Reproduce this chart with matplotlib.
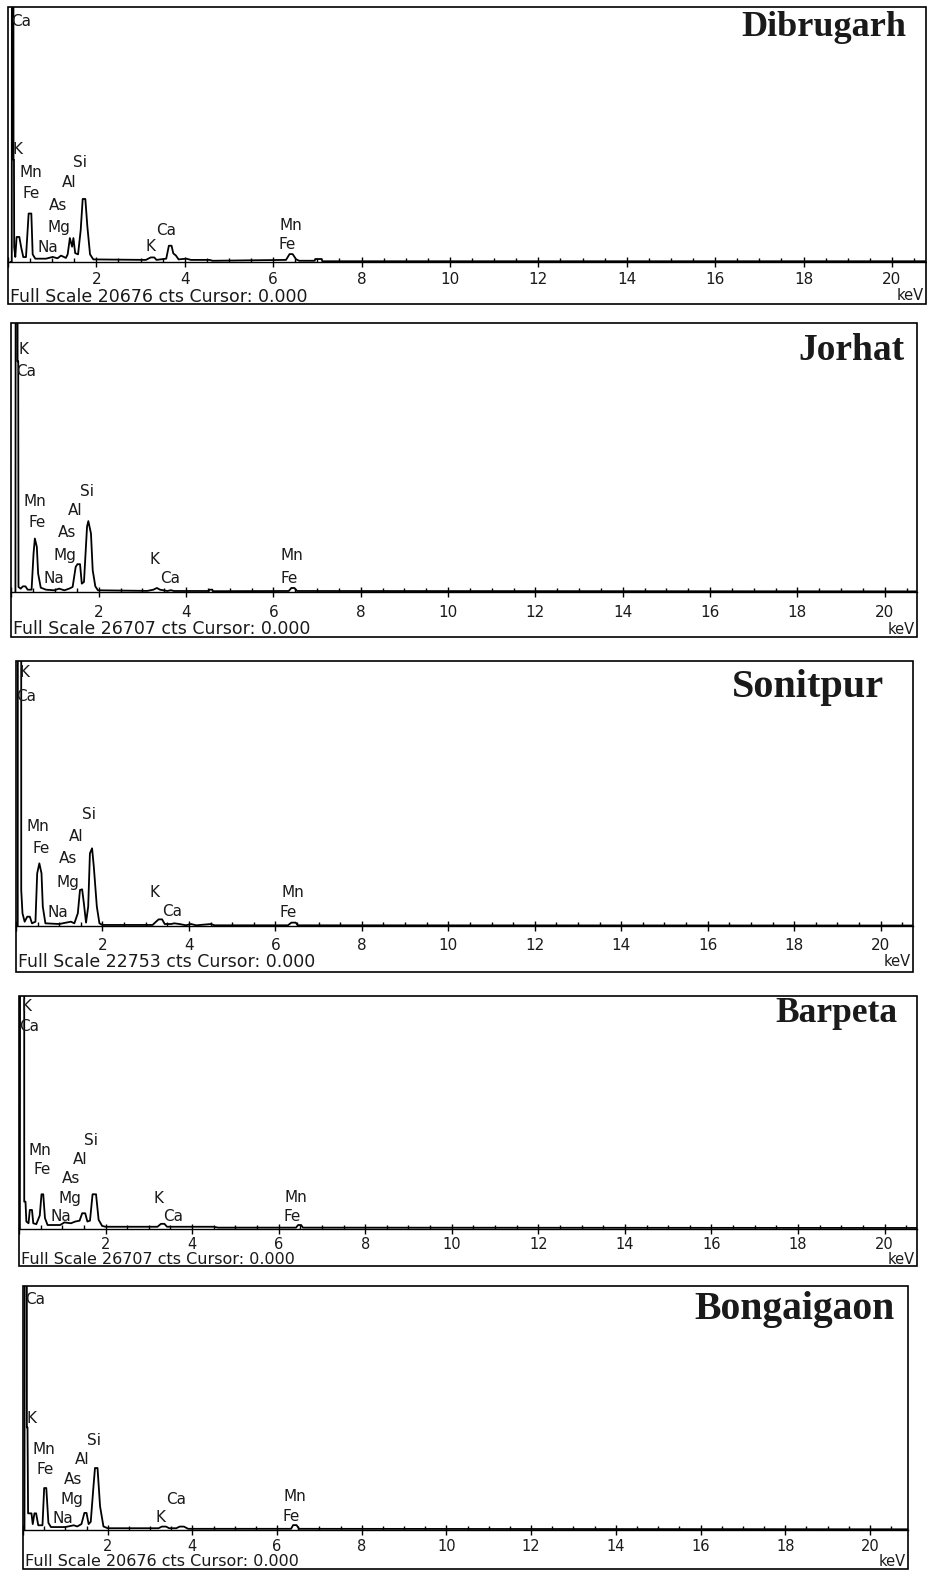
import matplotlib
matplotlib.use("Agg")
import matplotlib.pyplot as plt
from matplotlib.patches import Rectangle
from matplotlib.ticker import MultipleLocator, FuncFormatter

# EDX spectra of five districts, counts vs energy (keV)

sites = ["Dibrugarh", "Jorhat", "Sonitpur", "Barpeta", "Bongaigaon"]
full_scale = [20676, 26707, 22753, 26707, 20676]

dib_kev = [0.06, 0.085, 0.09, 0.12, 0.125, 0.135, 0.14, 0.165, 0.195, 0.256, 0.301, 0.346,
           0.407, 0.467, 0.528, 0.558, 0.618, 0.86, 1.01, 1.12, 1.20, 1.31, 1.35, 1.40,
           1.45, 1.48, 1.52, 1.585, 1.645, 1.69, 1.75, 1.795, 1.856, 1.93, 3.12, 3.23,
           3.31, 3.36, 3.58, 3.64, 3.70, 3.74, 3.80, 3.86, 4.03, 4.14, 4.56, 4.63, 6.29,
           6.37, 6.44, 6.52, 6.59, 6.94, 6.95, 7.10, 7.11, 20.9]
dib_cts = [0, 0, 40000, 40000, 8270, 8270, 1220, 410, 2030, 2030, 1140, 400,
           400, 3930, 3930, 620, 270, 270, 410, 300, 520, 330, 620, 1940,
           1240, 1940, 720, 620, 2600, 5110, 5110, 2900, 620, 210, 170, 370,
           370, 170, 270, 1320, 1320, 700, 520, 210, 270, 170, 170, 100, 170,
           640, 640, 210, 100, 100, 240, 240, 60, 60]

jor_kev = [0.09, 0.10, 0.138, 0.139, 0.154, 0.16, 0.21, 0.26, 0.32, 0.37, 0.46, 0.505,
           0.535, 0.58, 0.61, 0.67, 0.79, 0.98, 1.09, 1.21, 1.32, 1.40, 1.47, 1.51,
           1.57, 1.61, 1.66, 1.73, 1.76, 1.82, 1.86, 1.92, 1.98, 3.11, 3.25, 3.33,
           3.40, 3.57, 3.65, 3.72, 4.52, 4.53, 4.60, 4.61, 6.35, 6.41, 6.48, 6.54, 20.9]
jor_cts = [0, 60000, 60000, 22900, 22900, 500, 330, 560, 560, 230, 230, 3820,
           5310, 4480, 1830, 430, 230, 170, 330, 170, 330, 500, 2490, 2760,
           2760, 830, 1000, 6480, 7040, 5810, 2160, 560, 170, 110, 230, 400,
           230, 100, 180, 100, 100, 230, 230, 80, 100, 400, 400, 100, 60]

son_kev = [0.04, 0.045, 0.12, 0.121, 0.15, 0.20, 0.26, 0.32, 0.37, 0.45, 0.49, 0.54,
           0.59, 0.62, 0.68, 1.00, 1.16, 1.27, 1.35, 1.43, 1.48, 1.53, 1.57, 1.62,
           1.67, 1.71, 1.76, 1.80, 1.87, 1.93, 2.00, 3.16, 3.24, 3.30, 3.38, 3.44,
           3.59, 3.66, 3.78, 3.93, 4.05, 4.17, 4.51, 4.59, 6.29, 6.37, 6.47, 6.52, 20.9]
son_cts = [0, 60000, 60000, 3090, 1090, 370, 800, 800, 230, 370, 4520, 5380,
           4520, 1660, 230, 170, 290, 370, 230, 1090, 3090, 3150, 1950, 290,
           1660, 6240, 6670, 5090, 1660, 230, 90, 90, 370, 570, 570, 170,
           170, 230, 170, 60, 170, 60, 170, 60, 60, 290, 290, 60, 40]

bar_kev = [0.02, 0.03, 0.12, 0.121, 0.15, 0.17, 0.22, 0.25, 0.30, 0.33, 0.40, 0.48,
           0.52, 0.56, 0.60, 0.66, 0.95, 1.05, 1.20, 1.30, 1.40, 1.46, 1.53, 1.58,
           1.64, 1.70, 1.78, 1.84, 1.92, 2.00, 3.20, 3.28, 3.36, 3.42, 4.50, 4.60,
           6.40, 6.45, 6.52, 6.56, 20.9]
bar_cts = [0, 60000, 60000, 3080, 3080, 800, 600, 2130, 2130, 600, 500, 1500,
           3930, 3930, 1200, 400, 400, 700, 600, 800, 900, 1750, 1750, 800,
           900, 3930, 3930, 1000, 300, 200, 200, 534, 534, 200, 200, 100,
           100, 400, 400, 100, 60]

bon_kev = [0.035, 0.043, 0.09, 0.091, 0.107, 0.12, 0.15, 0.20, 0.23, 0.27, 0.31, 0.36,
           0.46, 0.50, 0.55, 0.60, 0.66, 1.00, 1.20, 1.28, 1.38, 1.45, 1.50, 1.55,
           1.60, 1.66, 1.70, 1.76, 1.82, 1.90, 2.00, 3.20, 3.28, 3.38, 3.45, 3.62,
           3.70, 3.80, 3.90, 6.33, 6.38, 6.46, 6.52, 20.9]
bon_cts = [0, 40000, 40000, 8690, 8690, 1410, 1410, 1410, 500, 1410, 1410, 400,
           400, 3556, 3556, 600, 250, 250, 400, 300, 500, 1447, 1447, 500,
           700, 3500, 5252, 5252, 2000, 300, 150, 150, 289, 289, 150, 150,
           289, 289, 100, 100, 414, 414, 100, 60]

spectra = [(dib_kev, dib_cts), (jor_kev, jor_cts), (son_kev, son_cts),
           (bar_kev, bar_cts), (bon_kev, bon_cts)]

# peak labels: text, keV, fraction of full scale
dib_labels = [("Ca", 0.075, 0.945), ("K", 0.10, 0.44), ("Mn", 0.26, 0.35), ("Fe", 0.33, 0.27),
              ("Si", 1.48, 0.39), ("Al", 1.23, 0.31), ("As", 0.93, 0.22), ("Mg", 0.89, 0.135),
              ("Na", 0.67, 0.055), ("Ca", 3.36, 0.125), ("K", 3.11, 0.059), ("Mn", 6.14, 0.145),
              ("Fe", 6.12, 0.067)]
jor_labels = [("K", 0.15, 0.90), ("Ca", 0.10, 0.82), ("Mn", 0.28, 0.335), ("Fe", 0.40, 0.257),
              ("Si", 1.57, 0.373), ("Al", 1.29, 0.302), ("As", 1.06, 0.22), ("Mg", 0.97, 0.134),
              ("Na", 0.74, 0.052), ("K", 3.15, 0.12), ("Ca", 3.40, 0.052), ("Mn", 6.16, 0.134),
              ("Fe", 6.16, 0.052)]
son_labels = [("K", 0.08, 0.955), ("Ca", 0.0, 0.865), ("Mn", 0.24, 0.377), ("Fe", 0.38, 0.294),
              ("Si", 1.53, 0.42), ("Al", 1.23, 0.336), ("As", 1.0, 0.253), ("Mg", 0.94, 0.166),
              ("Na", 0.73, 0.05), ("K", 3.08, 0.128), ("Ca", 3.38, 0.053), ("Mn", 6.14, 0.128),
              ("Fe", 6.10, 0.05)]
bar_labels = [("K", 0.05, 0.955), ("Ca", 0.0, 0.868), ("Mn", 0.22, 0.334), ("Fe", 0.33, 0.252),
              ("Si", 1.51, 0.377), ("Al", 1.24, 0.295), ("As", 0.98, 0.213), ("Mg", 0.91, 0.131),
              ("Na", 0.73, 0.05), ("K", 3.11, 0.131), ("Ca", 3.34, 0.05), ("Mn", 6.14, 0.135),
              ("Fe", 6.12, 0.05)]
bon_labels = [("Ca", 0.04, 0.943), ("K", 0.08, 0.459), ("Mn", 0.22, 0.328), ("Fe", 0.32, 0.246),
              ("Si", 1.50, 0.365), ("Al", 1.22, 0.287), ("As", 0.96, 0.209), ("Mg", 0.89, 0.127),
              ("Na", 0.70, 0.049), ("Ca", 3.37, 0.127), ("K", 3.13, 0.053), ("Mn", 6.16, 0.139),
              ("Fe", 6.13, 0.057)]
peak_labels = [dib_labels, jor_labels, son_labels, bar_labels, bon_labels]

# layout in pixels: left, right, top, axis line, bottom
W, H = 928, 1570
boxes = [(8, 926, 7, 262, 304),
         (11.5, 917, 323, 592, 637),
         (16, 913, 661, 926, 972),
         (19, 917, 996, 1228.5, 1266),
         (23, 908, 1286, 1530, 1569)]
xmax = [20.77, 20.74, 20.75, 20.75, 20.9]
# title: right x, centre y, size
titles_pos = [(906, 27, 26), (905, 350, 27), (884, 688, 29), (898, 1013, 25.5), (895, 1310, 28.5)]
# tick label pad / size, footer centre y / size, keV centre y
tick_pad = [3.5, 5.7, 4.9, 2.3, 2.8]
tick_size = [11, 11, 11, 10.5, 10.5]
foot_y = [297, 629, 962, 1259.5, 1561]
foot_size = [12.5, 12.5, 12.5, 11.5, 11.5]
kev_y = [295, 630, 962, 1260, 1562]

ink = "#1a1a1a"
fig = plt.figure(figsize=(W / 100, H / 100), dpi=100)

for i in range(5):
    l, r, t, a, b = boxes[i]
    kev, cts = spectra[i]
    fs = full_scale[i]
    ax = fig.add_axes([l / W, 1 - a / H, (r - l) / W, (a - t) / H])
    ax.plot(kev, cts, color="black", lw=1.3)
    ax.set_xlim(0, xmax[i])
    ax.set_ylim(0, fs)
    for s in ["left", "top", "right"]:
        ax.spines[s].set_visible(False)
    ax.spines["bottom"].set_linewidth(1.0)
    ax.set_yticks([])
    ax.xaxis.set_major_locator(MultipleLocator(2))
    ax.xaxis.set_minor_locator(MultipleLocator(0.5))
    ax.xaxis.set_major_formatter(FuncFormatter(lambda v, p: "" if v < 1 else "%d" % v))
    ax.tick_params(axis="x", which="major", direction="inout", length=7, width=1,
                   pad=tick_pad[i], labelsize=tick_size[i], labelcolor=ink)
    ax.tick_params(axis="x", which="minor", direction="in", length=3, width=1)

    for txt, x, y in peak_labels[i]:
        ax.text(x, y * fs, txt, ha="left", va="center", fontsize=11, color=ink)

    fig.add_artist(Rectangle((l / W, 1 - b / H), (r - l) / W, (b - t) / H, fill=False,
                             lw=1.2, ec="black", transform=fig.transFigure))
    fig.text((l + 2) / W, 1 - foot_y[i] / H, "Full Scale %d cts Cursor: 0.000" % fs,
             ha="left", va="center", fontsize=foot_size[i], color=ink)
    fig.text((r - 2) / W, 1 - kev_y[i] / H, "keV", ha="right", va="center",
             fontsize=10.5, color=ink)

    tx, ty, tsize = titles_pos[i]
    fig.text(tx / W, 1 - ty / H, sites[i], ha="right", va="center", fontsize=tsize,
             fontweight="bold", family="Liberation Serif", color=ink)

fig.savefig("out.png", dpi=100)
